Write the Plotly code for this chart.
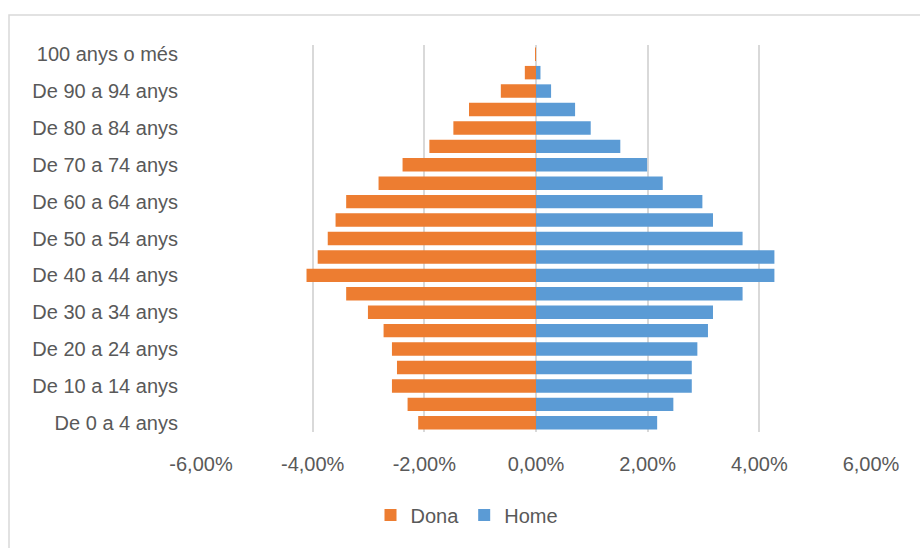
import plotly.graph_objects as go

# Age groups, bottom to top of the pyramid
age_groups = [
    "De 0 a 4 anys", "De 5 a 9 anys", "De 10 a 14 anys", "De 15 a 19 anys",
    "De 20 a 24 anys", "De 25 a 29 anys", "De 30 a 34 anys", "De 35 a 39 anys",
    "De 40 a 44 anys", "De 45 a 49 anys", "De 50 a 54 anys", "De 55 a 59 anys",
    "De 60 a 64 anys", "De 65 a 69 anys", "De 70 a 74 anys", "De 75 a 79 anys",
    "De 80 a 84 anys", "De 85 a 89 anys", "De 90 a 94 anys", "De 95 a 99 anys",
    "100 anys o més",
]

# Share of total population (%), women drawn to the left as negatives
dona = [-2.11, -2.30, -2.58, -2.49, -2.58, -2.73, -3.01, -3.40, -4.11, -3.91,
        -3.73, -3.59, -3.40, -2.82, -2.39, -1.91, -1.48, -1.20, -0.63, -0.20,
        -0.01]
home = [2.17, 2.46, 2.79, 2.79, 2.89, 3.08, 3.17, 3.70, 4.27, 4.27,
        3.70, 3.17, 2.98, 2.27, 1.99, 1.51, 0.98, 0.70, 0.27, 0.08,
        0.00]

# Axis ticks
x_tickvals = [-6, -4, -2, 0, 2, 4, 6]
x_ticktext = ["-6,00%", "-4,00%", "-2,00%", "0,00%", "2,00%", "4,00%", "6,00%"]
y_ticklabels = age_groups[::2]

ORANGE = "#ED7D31"
BLUE = "#5B9BD5"
GRID = "#D9D9D9"
TEXT = "#595959"
FONT = "Liberation Sans, Arial, sans-serif"

fig = go.Figure()
fig.add_trace(go.Bar(y=age_groups, x=dona, orientation="h", name="Dona",
                     marker=dict(color=ORANGE, line=dict(width=0))))
fig.add_trace(go.Bar(y=age_groups, x=home, orientation="h", name="Home",
                     marker=dict(color=BLUE, line=dict(width=0))))

L, R, T, B = 201, 49, 45, 116
W, H = 920, 548
pw = W - L - R
ph = H - T - B

def px_x(x):
    return (x - L) / pw

def px_y(y):
    return (H - B - y) / ph

fig.update_layout(
    width=W, height=H,
    margin=dict(l=L, r=R, t=T, b=B, autoexpand=False),
    paper_bgcolor="white", plot_bgcolor="white",
    barmode="overlay", bargap=0.27,
    font=dict(family=FONT, size=20, color=TEXT),
    showlegend=True,
    legend=dict(orientation="h", x=px_x(467), y=px_y(515),
                xanchor="center", yanchor="middle",
                font=dict(size=20, color=TEXT), traceorder="normal"),
    xaxis=dict(range=[-6, 6], tickvals=x_tickvals, ticktext=x_ticktext,
               showgrid=True, gridcolor=GRID, gridwidth=1.5,
               zeroline=True, zerolinecolor=GRID, zerolinewidth=1.5,
               showline=False, ticks="", ticklabelstandoff=18,
               fixedrange=True),
    yaxis=dict(type="category", categoryorder="array", categoryarray=age_groups,
               tickvals=y_ticklabels, ticktext=y_ticklabels,
               showgrid=False, zeroline=False, showline=False, ticks="",
               ticklabelstandoff=22, range=[-0.5, len(age_groups) - 0.5],
               fixedrange=True),
)

# Light frame around the chart area
fig.add_shape(type="rect", xref="paper", yref="paper",
              x0=px_x(9), x1=px_x(940), y0=px_y(570), y1=px_y(15),
              line=dict(color=GRID, width=1.5), fillcolor="rgba(0,0,0,0)",
              layer="below")

fig.write_html("out.html")
